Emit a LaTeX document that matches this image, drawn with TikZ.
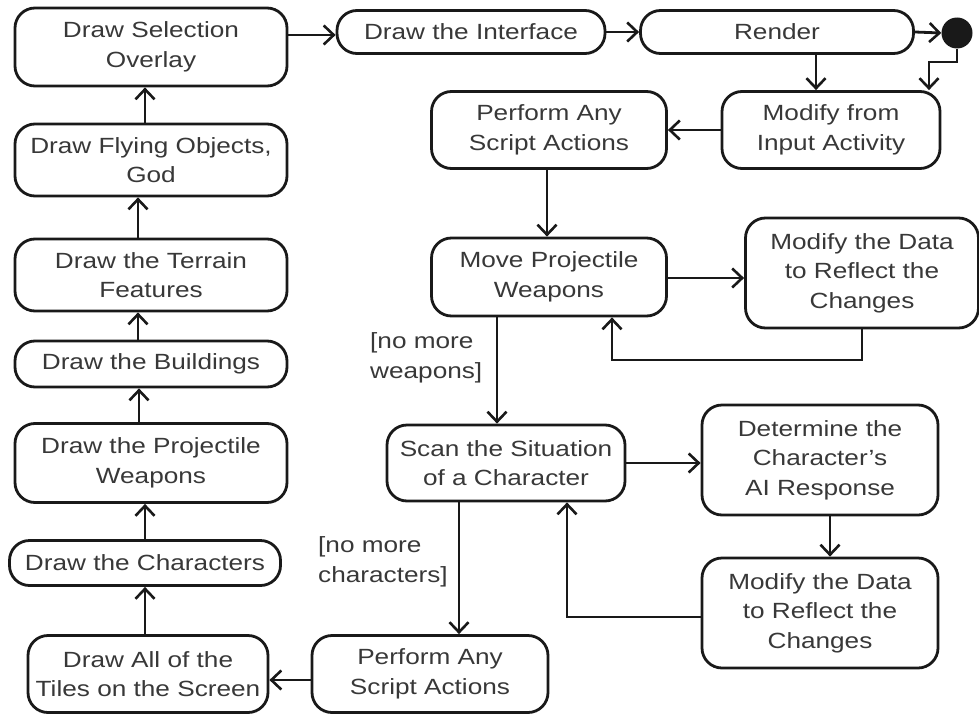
\documentclass[tikz,border=0pt]{standalone}
\usepackage{fontspec}
\setmainfont{Liberation Sans}[FakeStretch=1.19]
\usetikzlibrary{arrows.meta,calc}
\begin{document}
\begin{tikzpicture}[x=1pt,y=-1pt,
  box/.style={draw=black!90, line width=2.8pt, rounded corners=20pt, align=center,
    inner sep=0pt, font=\fontsize{22}{29.5}\selectfont, text=black!78},
  arr/.style={line width=2.8pt, draw=black!90, -{Straight Barb[length=10pt,width=19pt,line width=2.6pt]}},
  guard/.style={align=left, inner sep=0pt, font=\fontsize{22}{29.5}\selectfont, text=black!78}]
\useasboundingbox (0,0) rectangle (979,717);

% left column
\node[box, minimum width=272pt, minimum height=78pt] (sel) at (151,47) {Draw Selection\\Overlay};
\node[box, minimum width=272pt, minimum height=72pt] (flying) at (151,160) {Draw Flying Objects,\\God};
\node[box, minimum width=272pt, minimum height=72pt] (terrain) at (151,275) {Draw the Terrain\\Features};
\node[box, minimum width=272pt, minimum height=46pt] (build) at (151,364) {Draw the Buildings};
\node[box, minimum width=272pt, minimum height=79pt] (proj) at (151,463) {Draw the Projectile\\Weapons};
\node[box, minimum width=271pt, minimum height=45pt] (chars) at (145,563) {Draw the Characters};
\node[box, minimum width=240pt, minimum height=77pt] (tiles) at (148,674) {Draw All of the\\Tiles on the Screen};

% top row
\node[box, minimum width=268pt, minimum height=43pt] (iface) at (471,32) {Draw the Interface};
\node[box, minimum width=273pt, minimum height=43pt] (render) at (777,32) {Render};
\node[circle, fill=black!90, minimum size=31pt, inner sep=0pt] (final) at (957,33) {};

% right part
\node[box, minimum width=218pt, minimum height=77pt] (input) at (831,130) {Modify from\\Input Activity};
\node[box, minimum width=235pt, minimum height=77pt] (scriptA) at (549,130) {Perform Any\\Script Actions};
\node[box, minimum width=235pt, minimum height=78pt] (move) at (549,277) {Move Projectile\\Weapons};
\node[box, minimum width=233pt, minimum height=110pt] (modA) at (862,273) {Modify the Data\\to Reflect the\\Changes};
\node[box, minimum width=238pt, minimum height=76pt] (scan) at (506,463) {Scan the Situation\\of a Character};
\node[box, minimum width=236pt, minimum height=110pt] (det) at (820,460) {Determine the\\Character’s\\AI Response};
\node[box, minimum width=236pt, minimum height=110pt] (modB) at (820,613) {Modify the Data\\to Reflect the\\Changes};
\node[box, minimum width=236pt, minimum height=77pt] (scriptB) at (430,674) {Perform Any\\Script Actions};

% guard labels
\node[guard, anchor=west] (g1) at (370,358) {[no more\\weapons]};
\node[guard, anchor=west] (g2) at (318,562) {[no more\\characters]};

% left column connectors
\draw[arr] (chars.south |- tiles.north) -- (chars.south);
\draw[arr] (chars.north) -- (chars.north |- proj.south);
\draw[arr] ([xshift=-12pt]proj.north) -- ([xshift=-12pt]build.south);
\draw[arr] ([xshift=-13pt]build.north) -- ([xshift=-13pt]terrain.south);
\draw[arr] ([xshift=-13pt]terrain.north) -- ([xshift=-13pt]flying.south);
\draw[arr] ([xshift=-6pt]flying.north) -- ([xshift=-6pt]sel.south);

% top row connectors
\draw[arr] (sel.east |- 0,35) -- (iface.west |- 0,35);
\draw[arr] (iface.east) -- (render.west);
\draw[arr] (render.east) -- (final.west);
\coordinate (bend) at (929,62);
\draw[arr] (final.south) |- (bend) -- (bend |- input.north);
\draw[arr] (render.south -| 816,0) -- (input.north -| 816,0);

% right part connectors
\draw[arr] (input.west) -- (scriptA.east);
\draw[arr] (scriptA.south -| 547,0) -- (move.north -| 547,0);
\draw[arr] (move.east |- 0,278) -- (modA.west |- 0,278);
\draw[arr] (modA.south) |- (612,360) -- (move.south -| 612,0);
\draw[arr] (move.south -| 497,0) -- (scan.north -| 497,0);
\draw[arr] (scan.east |- 0,463) -- (det.west |- 0,463);
\draw[arr] (det.south -| 830,0) -- (modB.north -| 830,0);
\draw[arr] (modB.west |- 0,617) -| (scan.south -| 567,0);
\draw[arr] (scan.south -| 459,0) -- (scriptB.north -| 459,0);
\draw[arr] (scriptB.west |- 0,680) -- (tiles.east |- 0,680);
\end{tikzpicture}
\end{document}
